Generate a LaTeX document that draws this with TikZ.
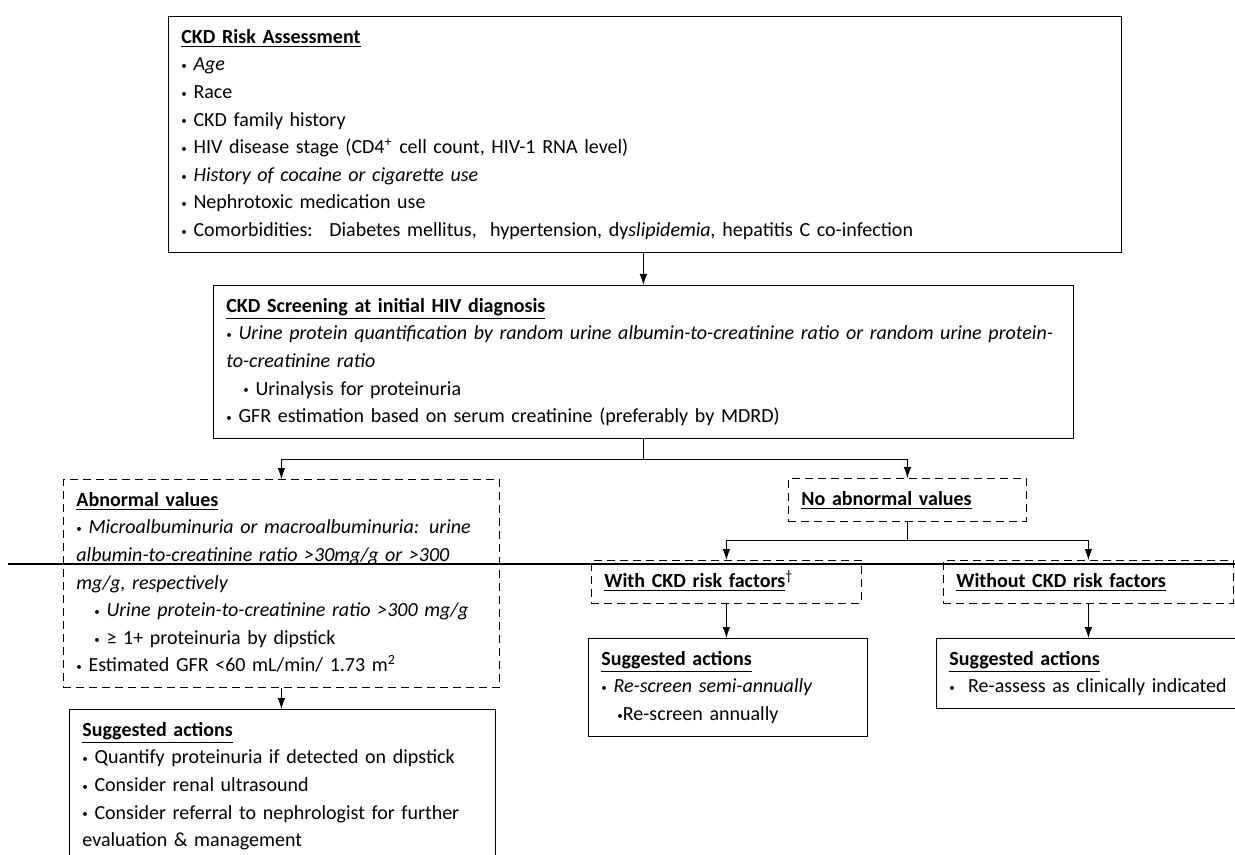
\documentclass[tikz,border=0pt]{standalone}
\usepackage{fontspec}
\setmainfont{Carlito}
\usepackage{graphicx}
\usepackage{tikz}
\usetikzlibrary{arrows.meta}
\newcommand{\bul}{\raisebox{0.12ex}{\scalebox{0.55}{•}}}
\tikzset{->,>={Latex[length=5.5pt,width=3.8pt]},line width=0.9pt,every node/.style={font=\fontsize{10pt}{13.8pt}\selectfont},
  box/.style={draw,rectangle,-,anchor=north west,align=left,inner xsep=6.5pt,inner ysep=3.8pt,
    execute at begin node=\strut,execute at end node=\strut},
  dbox/.style={box,dash pattern=on 4pt off 2.5pt}}

\begin{document}
\begin{tikzpicture}[x=0.5pt,y=-0.5pt]
    \useasboundingbox (0,0) rectangle (1235,855);
    \node[box,text width=463.5pt] (1) at (168,16) {\underline{\textbf{CKD Risk Assessment}}\\
      \bul{} \textit{Age}\\
      \bul{} Race\\
      \bul{} CKD family history\\
      \bul{} HIV disease stage (CD4\textsuperscript{+} cell count, HIV-1 RNA level)\\
      \bul{} \textit{History of cocaine or cigarette use}\\
      \bul{} Nephrotoxic medication use\\
      \bul{} Comorbidities:~ Diabetes mellitus,~ hypertension, dy\textit{slipidemia,} hepatitis C co-infection};
    \node[box,text width=417pt] (2) at (213,285) {\underline{\textbf{CKD Screening at initial HIV diagnosis}}\\
      \bul{} \textit{Urine protein quantification by random urine albumin-to-creatinine ratio or random urine protein-}\\
      \textit{to-creatinine ratio}\\
      \hspace*{0.85em}\bul{} Urinalysis for proteinuria\\
      \bul{} GFR estimation based on serum creatinine (preferably by MDRD)};
    \node[dbox,text width=205pt] (3) at (63,479) {\underline{\textbf{Abnormal values}}\\
      \bul{} \textit{Microalbuminuria or macroalbuminuria: urine}\\
      \textit{albumin-to-creatinine ratio >30mg/g or >300}\\
      \textit{mg/g, respectively}\\
      \hspace*{0.9em}\bul{} \textit{Urine protein-to-creatinine ratio >300 mg/g}\\
      \hspace*{0.9em}\bul{} ≥ 1+ proteinuria by dipstick\\
      \bul{} Estimated GFR <60 mL/min/ 1.73 m\textsuperscript{2}};
    \node[dbox,text width=106pt] (4) at (788,478) {\underline{\textbf{No abnormal values}}};
    \node[dbox,text width=122pt] (5) at (591,560) {\underline{\textbf{With CKD risk factors}}\textsuperscript{†}};
    \node[dbox,text width=132pt] (6) at (943,560) {\underline{\textbf{Without CKD risk factors}}};
    \node[box,text width=200pt] (7) at (69,709) {\underline{\textbf{Suggested actions}}\\
      \bul{} Quantify proteinuria if detected on dipstick\\
      \bul{} Consider renal ultrasound\\
      \bul{} Consider referral to nephrologist for further\\
      evaluation \& management};
    \node[box,text width=126.5pt] (8) at (588,638) {\underline{\textbf{Suggested actions}}\\
      \bul{} \textit{Re-screen semi-annually}\\
      \hspace*{0.8em}\bul{}Re-screen annually};
    \node[box,text width=150pt] (9) at (936,638) {\underline{\textbf{Suggested actions}}\\
      \bul{}~~Re-assess as clinically indicated};
    \path
    (2.north |- 1.south) edge (2.north)
    (3.south) edge (3.south |- 7.north)
    (5.south) edge (5.south |- 8.north)
    (6.south) edge (6.south |- 9.north)
    ;
    \draw (2.south) -- ++(0,20) -| (3.north);
    \draw (2.south) -- ++(0,20) -| (4.north);
    \draw (4.south) -- ++(0,19) -| (5.north);
    \draw (4.south) -- ++(0,19) -| (6.north);
    \coordinate (0a) at (8,564);
    \coordinate (0b) at (1235,564);
    \draw[-,line width=1pt] (0a) -- (0b);
\end{tikzpicture}
\end{document}
